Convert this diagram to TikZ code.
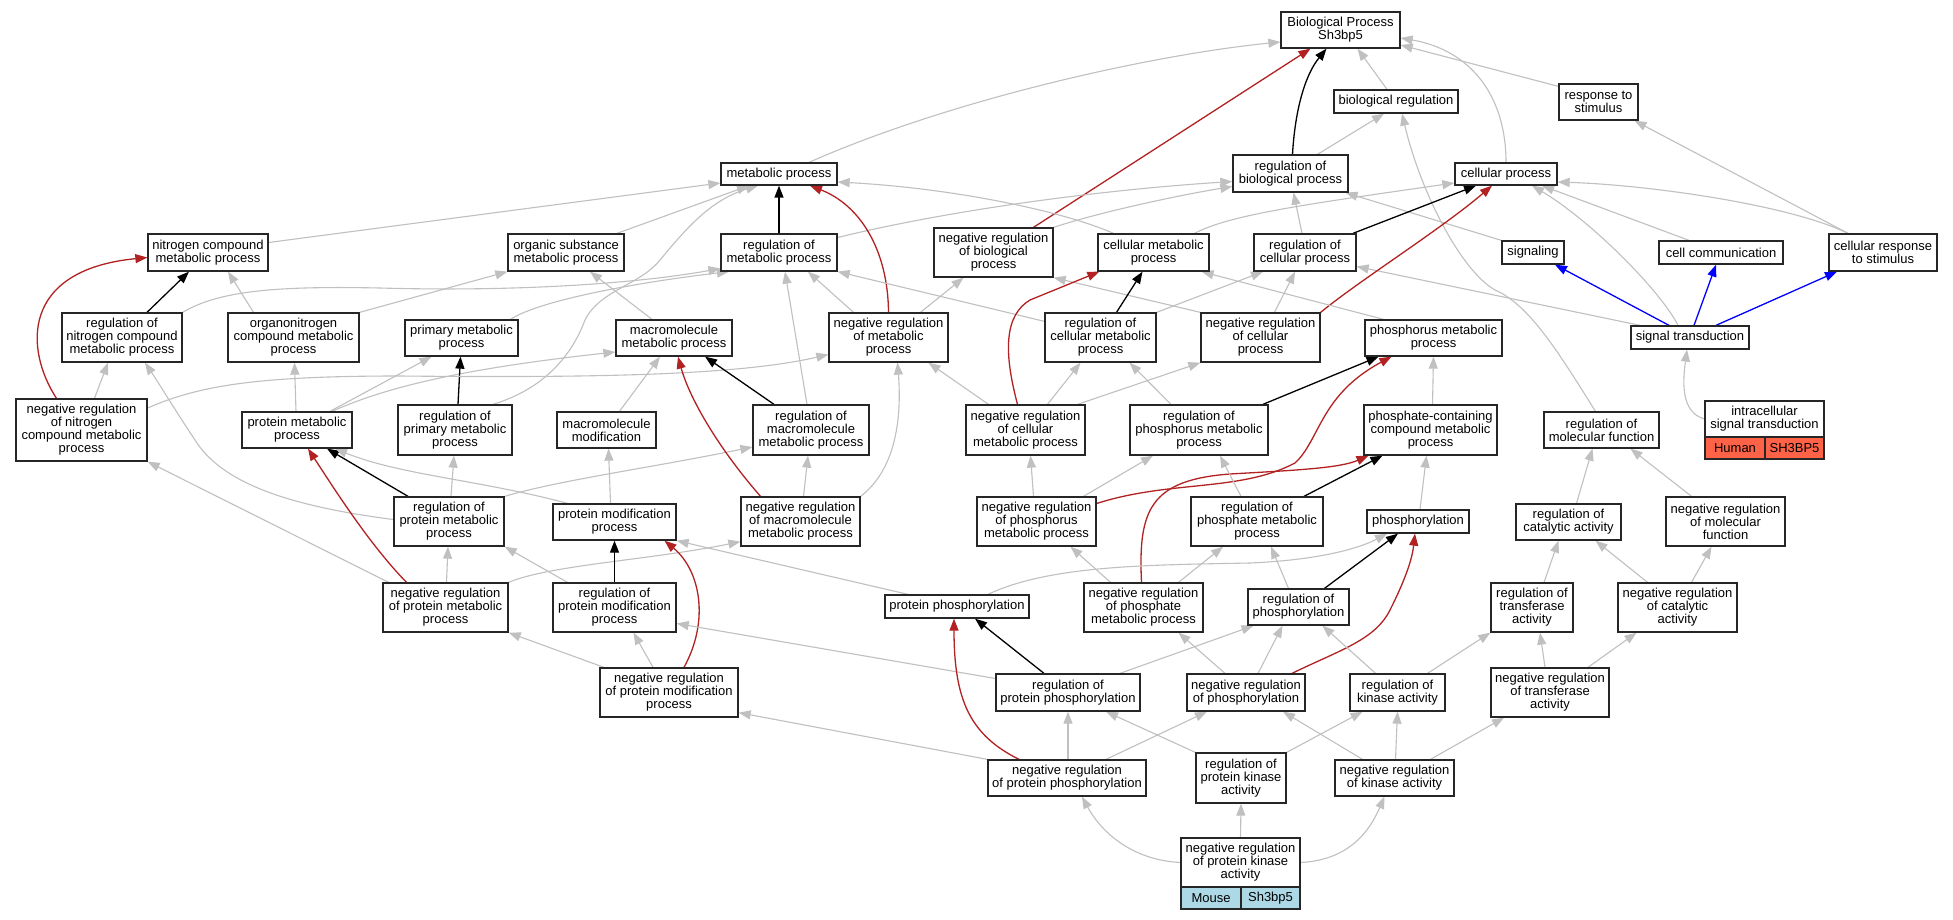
\documentclass[tikz,border=0pt]{standalone}
\usepackage{fontspec}
\setmainfont{Liberation Sans}
\usetikzlibrary{arrows.meta,calc,backgrounds}
\definecolor{eg}{HTML}{C0C0C0}
\definecolor{er}{HTML}{B22222}
\definecolor{eb}{HTML}{0000FF}
\definecolor{hum}{HTML}{FF6347}
\definecolor{mou}{HTML}{ADD8E6}
\newcommand\nfont{\fontsize{13}{13}\selectfont}
\newcommand\gobox[6]{\node[gbox,minimum width=#4pt,minimum height=#5pt] (#1) at (#2,#3) {#6};}
\begin{document}
\begin{tikzpicture}[x=1pt,y=-1pt,
  gbox/.style={draw=black!85,line width=1.3pt,fill=white,rectangle,inner sep=0pt,align=center,font=\nfont},
  gline/.style={draw=eg,line width=1.1pt,-{Triangle[length=12pt,width=9pt]}},
  kline/.style={draw=black,line width=1.3pt,-{Triangle[length=12pt,width=9pt]}},
  rline/.style={draw=er,line width=1.3pt,-{Triangle[length=12pt,width=9pt]}},
  bline/.style={draw=eb,line width=1.3pt,-{Triangle[length=12pt,width=9pt]}}]
\useasboundingbox (0,0) rectangle (1953,920);
% nodes
\gobox{BP}{1340.5}{30}{119}{36}{Biological Process\\Sh3bp5}
\gobox{bioreg}{1396}{101.5}{124}{23}{biological regulation}
\gobox{resp}{1598.5}{102}{79}{36}{response to\\stimulus}
\gobox{metab}{779}{174}{116}{22}{metabolic process}
\gobox{regbio}{1290.5}{173.5}{115}{37}{regulation of\\biological process}
\gobox{cellp}{1506}{174}{102}{22}{cellular process}
\gobox{ncmp}{208}{252.5}{120}{37}{nitrogen compound\\metabolic process}
\gobox{osmp}{566}{252.5}{116}{37}{organic substance\\metabolic process}
\gobox{regmp}{779}{252.5}{116}{37}{regulation of\\metabolic process}
\gobox{nrbio}{993.5}{252.5}{119}{49}{negative regulation\\of biological\\process}
\gobox{cmp}{1153.5}{252.5}{111}{37}{cellular metabolic\\process}
\gobox{regcp}{1305}{252.5}{102}{37}{regulation of\\cellular process}
\gobox{sig}{1533}{252.5}{62}{23}{signaling}
\gobox{cellcomm}{1721}{252.5}{124}{23}{cell communication}
\gobox{crs}{1883}{252.5}{108}{37}{cellular response\\to stimulus}
\gobox{rncmp}{122}{337.5}{120}{49}{regulation of\\nitrogen compound\\metabolic process}
\gobox{oncmp}{293.5}{337.5}{131}{49}{organonitrogen\\compound metabolic\\process}
\gobox{pmp}{461.5}{338}{113}{36}{primary metabolic\\process}
\gobox{mmp}{674}{338}{116}{36}{macromolecule\\metabolic process}
\gobox{nrmp}{888.5}{337.5}{119}{49}{negative regulation\\of metabolic\\process}
\gobox{rcmp}{1100.5}{337.5}{111}{49}{regulation of\\cellular metabolic\\process}
\gobox{nrcp}{1260.5}{337.5}{119}{49}{negative regulation\\of cellular\\process}
\gobox{phmp}{1433.5}{338}{137}{36}{phosphorus metabolic\\process}
\gobox{st}{1690}{337.5}{118}{23}{signal transduction}
\gobox{nrncmp}{81.5}{430}{131}{62}{negative regulation\\of nitrogen\\compound metabolic\\process}
\gobox{prmp}{297}{430}{110}{36}{protein metabolic\\process}
\gobox{rpmp}{455}{430}{114}{50}{regulation of\\primary metabolic\\process}
\gobox{mmod}{606.5}{430}{99}{36}{macromolecule\\modification}
\gobox{rmmp}{811}{430}{116}{50}{regulation of\\macromolecule\\metabolic process}
\gobox{nrcmp}{1025.5}{430}{119}{50}{negative regulation\\of cellular\\metabolic process}
\gobox{rphmp}{1199}{430}{138}{50}{regulation of\\phosphorus metabolic\\process}
\gobox{pccmp}{1430.5}{430}{133}{50}{phosphate-containing\\compound metabolic\\process}
\gobox{rmf}{1601.5}{430}{115}{36}{regulation of\\molecular function}
\gobox{ist}{1764.5}{419}{119}{36}{intracellular\\signal transduction}
\node[gbox,fill=hum,minimum width=60pt,minimum height=22pt] (isth) at (1735,448) {Human};
\node[gbox,fill=hum,minimum width=59pt,minimum height=22pt] (istg) at (1794.5,448) {SH3BP5};
\gobox{rprmp}{449}{521.5}{110}{49}{regulation of\\protein metabolic\\process}
\gobox{pmod}{614.5}{522}{123}{36}{protein modification\\process}
\gobox{nrmmp}{800.5}{521.5}{119}{49}{negative regulation\\of macromolecule\\metabolic process}
\gobox{nrphmp}{1036.5}{521.5}{119}{49}{negative regulation\\of phosphorus\\metabolic process}
\gobox{rphtmp}{1257}{521.5}{132}{49}{regulation of\\phosphate metabolic\\process}
\gobox{phos}{1418}{521.5}{102}{23}{phosphorylation}
\gobox{rca}{1568.5}{522}{105}{36}{regulation of\\catalytic activity}
\gobox{nrmf}{1725.5}{521.5}{119}{49}{negative regulation\\of molecular\\function}
\gobox{nrprmp}{445.5}{607.5}{125}{49}{negative regulation\\of protein metabolic\\process}
\gobox{rpmod}{614.5}{607.5}{123}{49}{regulation of\\protein modification\\process}
\gobox{pphos}{957}{606.5}{144}{23}{protein phosphorylation}
\gobox{nrphtmp}{1143.5}{607.5}{119}{49}{negative regulation\\of phosphate\\metabolic process}
\gobox{rphos}{1298.5}{607}{101}{36}{regulation of\\phosphorylation}
\gobox{rta}{1532}{607.5}{82}{49}{regulation of\\transferase\\activity}
\gobox{nrca}{1677.5}{607.5}{119}{49}{negative regulation\\of catalytic\\activity}
\gobox{nrpmod}{669}{692.5}{138}{49}{negative regulation\\of protein modification\\process}
\gobox{rpphos}{1068}{692.5}{144}{37}{regulation of\\protein phosphorylation}
\gobox{nrphos}{1246}{692.5}{118}{37}{negative regulation\\of phosphorylation}
\gobox{rka}{1397.5}{692.5}{95}{37}{regulation of\\kinase activity}
\gobox{nrta}{1550}{692.5}{118}{49}{negative regulation\\of transferase\\activity}
\gobox{nrpphos}{1067}{778}{158}{36}{negative regulation\\of protein phosphorylation}
\gobox{rpka}{1241}{778}{90}{50}{regulation of\\protein kinase\\activity}
\gobox{nrka}{1394.5}{778}{119}{36}{negative regulation\\of kinase activity}
\gobox{nrpka}{1240.5}{862.5}{119}{49}{negative regulation\\of protein kinase\\activity}
\node[gbox,fill=mou,minimum width=60pt,minimum height=22pt] (nrpkam) at (1211,898) {Mouse};
\node[gbox,fill=mou,minimum width=59pt,minimum height=22pt] (nrpkag) at (1270.5,898) {Sh3bp5};
\begin{scope}[on background layer]
\fill[white] (0,0) rectangle (1953,920);
% top
\draw[gline] ($(metab.north)+(30,0)$) .. controls (950,100) and (1150,55) .. ($(BP.west)+(0,12)$);
\draw[gline] ($(bioreg.north)+(-9,0)$) -- ($(BP.south)+(17,0)$);
\draw[gline] ($(resp.north west)+(0,3)$) -- ($(BP.east)+(0,15)$);
\draw[gline] (cellp.north) .. controls (1506,95) and (1470,50) .. ($(BP.east)+(0,8)$);
\draw[kline] ($(regbio.north)+(2,0)$) .. controls (1295,110) and (1305,75) .. ($(BP.south)+(-14,0)$);
\draw[rline] ($(nrbio.north)+(40,0)$) -- ($(BP.south)+(-30,0)$);
\draw[gline] ($(regbio.north)+(27,0)$) -- ($(bioreg.south)+(-12,0)$);
\draw[gline] ($(rmf.north)+(-6,0)$) .. controls (1560,355) and (1530,305) .. (1495,290) .. controls (1460,270) and (1420,190) .. ($(bioreg.south)+(6,0)$);
\draw[gline] ($(crs.north)+(-35,0)$) .. controls (1790,205) and (1650,185) .. ($(cellp.east)+(0,8)$);
\draw[gline] ($(crs.north)+(-35,0)$) -- ($(resp.south)+(36,0)$);
\draw[gline] ($(cellcomm.north)+(-32,0)$) -- ($(cellp.south)+(36,0)$);
\draw[gline] ($(st.north)+(-12,0)$) .. controls (1660,290) and (1590,220) .. ($(cellp.south)+(26,0)$);
\draw[bline] ($(st.north)+(-21,0)$) -- ($(sig.south)+(22,0)$);
\draw[bline] ($(st.north)+(4,0)$) -- ($(cellcomm.south)+(-5,0)$);
\draw[bline] ($(st.north)+(26,0)$) -- ($(crs.south)+(-46,0)$);
\draw[gline] ($(st.north)+(-50,0)$) -- ($(regcp.east)+(0,14)$);
\draw[gline] (sig.north west) -- ($(regbio.south)+(55,0)$);
\draw[gline] ($(regcp.north)+(-3,0)$) -- ($(regbio.south)+(3,0)$);
\draw[kline] ($(regcp.north)+(48,0)$) -- ($(cellp.south)+(-30,0)$);
\draw[rline] (nrcp.north east) .. controls (1360,280) and (1440,230) .. ($(cellp.south)+(-14,0)$);
\draw[gline] ($(cmp.north)+(41,0)$) .. controls (1230,215) and (1300,205) .. ($(cellp.west)+(0,9)$);
\draw[gline] ($(regmp.east)+(0,-15)$) .. controls (950,210) and (1100,190) .. ($(regbio.west)+(0,8)$);
\draw[gline] (nrbio.north east) .. controls (1100,212) and (1180,195) .. ($(regbio.west)+(0,13)$);
\draw[kline] (regmp.north) -- (metab.south);
\draw[rline] (nrmp.north) .. controls (888,250) and (860,205) .. ($(metab.south)+(31,0)$);
\draw[gline] ($(cmp.north)+(-40,0)$) .. controls (1060,210) and (950,188) .. ($(metab.east)+(0,8)$);
\draw[gline] ($(ncmp.east)+(0,-10)$) -- ($(metab.west)+(0,9)$);
\draw[gline] ($(osmp.north)+(51,0)$) -- ($(metab.south)+(-30,0)$);
\draw[gline] ($(rpmp.north)+(38,0)$) .. controls (540,390) and (570,360) .. (585,320) .. controls (600,290) and (640,285) .. (660,260) .. controls (685,230) and (710,200) .. ($(metab.south)+(-21,0)$);
\draw[gline] ($(pmp.north)+(49,0)$) .. controls (540,300) and (640,282) .. ($(regmp.south)+(-50,0)$);
\draw[gline] (rncmp.north east) .. controls (220,290) and (280,286) .. (380,288) .. controls (520,292) and (640,283) .. ($(regmp.west)+(0,16)$);
\draw[gline] ($(oncmp.north)+(-40,0)$) -- ($(ncmp.south)+(20,0)$);
\draw[kline] ($(rncmp.north)+(25,0)$) -- ($(ncmp.south)+(-19,0)$);
\draw[rline] ($(nrncmp.north)+(-25,0)$) .. controls (25,350) and (20,270) .. ($(ncmp.west)+(0,5)$);
\draw[gline] (oncmp.north east) -- (osmp.south west);
\draw[gline] ($(mmp.north)+(-22,0)$) -- ($(osmp.south)+(24,0)$);
\draw[gline] ($(rcmp.north west)+(0,9)$) -- (regmp.south east);
\draw[gline] ($(nrmp.north)+(-35,0)$) -- ($(regmp.south)+(29,0)$);
\draw[gline] ($(rmmp.north)+(-4,0)$) -- ($(regmp.south)+(6,0)$);
\draw[gline] ($(nrmp.north)+(32,0)$) -- ($(nrbio.south)+(-30,0)$);
\draw[gline] (nrcp.north west) -- (nrbio.south east);
\draw[kline] ($(rcmp.north)+(16,0)$) -- ($(cmp.south)+(-11,0)$);
\draw[rline] ($(nrcmp.north)+(-8,0)$) .. controls (1003,350) and (1005,315) .. (1030,300) -- ($(cmp.south west)+(2,0)$);
\draw[gline] (rcmp.north east) -- ($(regcp.south)+(-42,0)$);
\draw[gline] ($(nrcp.north)+(14,0)$) -- ($(regcp.south)+(-10,0)$);
\draw[gline] ($(phmp.north)+(-50,0)$) -- ($(cmp.south)+(48,0)$);
\draw[gline] (ist.west) .. controls (1680,412) and (1683,380) .. ($(st.south)+(-3,0)$);
% middle
\draw[gline] ($(prmp.north)+(33,0)$) -- ($(pmp.south)+(-30,0)$);
\draw[gline] ($(prmp.north)+(-1,0)$) -- ($(oncmp.south)+(1,0)$);
\draw[gline] ($(prmp.north)+(35,0)$) .. controls (380,390) and (450,370) .. ($(mmp.west)+(0,14)$);
\draw[kline] ($(rpmp.north)+(3,0)$) -- ($(pmp.south)+(-1,0)$);
\draw[gline] ($(nrncmp.north)+(13,0)$) -- ($(rncmp.south)+(-14,0)$);
\draw[gline] ($(nrncmp.east)+(0,-22)$) .. controls (200,385) and (260,376) .. (400,376) .. controls (600,378) and (740,375) .. ($(nrmp.west)+(0,17)$);
\draw[gline] ($(mmod.north)+(13,0)$) -- ($(mmp.south)+(-14,0)$);
\draw[kline] ($(rmmp.north)+(-37,0)$) -- ($(mmp.south)+(31,0)$);
\draw[gline] ($(nrcmp.north)+(-37,0)$) -- ($(nrmp.south)+(40,0)$);
\draw[gline] ($(nrcmp.north)+(22,0)$) -- ($(rcmp.south)+(-20,0)$);
\draw[gline] ($(nrcmp.north)+(52,0)$) -- (nrcp.south west);
\draw[kline] ($(rphmp.north)+(64,0)$) -- ($(phmp.south)+(-55,0)$);
\draw[gline] ($(rphmp.north)+(-28,0)$) -- ($(rcmp.south)+(29,0)$);
\draw[gline] ($(pccmp.north)+(2,0)$) -- (phmp.south);
\draw[kline] ($(rprmp.north)+(-41,0)$) -- ($(prmp.south)+(30,0)$);
\draw[gline] ($(rprmp.north)+(2,0)$) -- ($(rpmp.south)+(-1,0)$);
\draw[gline] ($(rprmp.west)+(0,-2)$) .. controls (280,505) and (220,480) .. (195,440) .. controls (175,410) and (160,385) .. ($(rncmp.south)+(23,0)$);
\draw[gline] (rprmp.north east) .. controls (560,480) and (650,468) .. ($(rmmp.west)+(0,17)$);
\draw[gline] ($(pmod.north)+(-4,0)$) -- ($(mmod.south)+(2,0)$);
\draw[gline] ($(pmod.north)+(-47,0)$) .. controls (480,480) and (400,475) .. ($(prmp.south)+(38,0)$);
\draw[rline] ($(nrmmp.north)+(-40,0)$) .. controls (720,450) and (690,400) .. ($(mmp.south)+(4,0)$);
\draw[gline] ($(nrmmp.north)+(3,0)$) -- ($(rmmp.south)+(-3,0)$);
\draw[gline] (nrmmp.north east) .. controls (895,470) and (902,420) .. ($(nrmp.south)+(9,0)$);
\draw[gline] ($(nrphmp.north)+(-3,0)$) -- ($(nrcmp.south)+(5,0)$);
\draw[gline] ($(nrphmp.north)+(47,0)$) -- ($(rphmp.south)+(-46,0)$);
\draw[rline] ($(nrphmp.east)+(0,-18)$) .. controls (1170,480) and (1240,492) .. (1295,463) .. controls (1320,440) and (1320,395) .. ($(phmp.south)+(-42,0)$);
\draw[rline] ($(nrphtmp.north)+(-2,0)$) .. controls (1138,510) and (1150,480) .. (1230,474) .. controls (1300,470) and (1340,468) .. ($(pccmp.south)+(-62,0)$);
\draw[kline] ($(rphtmp.north)+(47,0)$) -- ($(pccmp.south)+(-48,0)$);
\draw[gline] ($(rphtmp.north)+(-16,0)$) -- ($(rphmp.south)+(21,0)$);
\draw[gline] ($(phos.north)+(2,0)$) -- ($(pccmp.south)+(-4,0)$);
\draw[gline] ($(rca.north)+(8,0)$) -- ($(rmf.south)+(-9,0)$);
\draw[gline] ($(nrmf.north)+(-34,0)$) -- ($(rmf.south)+(29,0)$);
% lower
\draw[rline] ($(nrprmp.north)+(-39,0)$) .. controls (370,545) and (335,490) .. ($(prmp.south)+(11,0)$);
\draw[gline] ($(nrprmp.north)+(1,0)$) -- ($(rprmp.south)+(-1,0)$);
\draw[gline] ($(nrprmp.north)+(-57,0)$) -- (nrncmp.south east);
\draw[gline] (nrprmp.north east) .. controls (550,565) and (650,560) .. ($(nrmmp.south west)+(0,-5)$);
\draw[kline] (rpmod.north) -- (pmod.south);
\draw[gline] ($(rpmod.north)+(-47,0)$) -- (rprmp.south east);
\draw[gline] ($(pphos.north)+(-49,0)$) -- (pmod.south east);
\draw[gline] ($(pphos.north)+(31,0)$) .. controls (1050,565) and (1150,565) .. (1250,563) .. controls (1320,560) and (1360,548) .. ($(phos.south)+(-31,0)$);
\draw[rline] ($(nrpmod.north)+(15,0)$) .. controls (710,620) and (700,570) .. ($(pmod.south)+(50,0)$);
\draw[gline] ($(nrpmod.north)+(-65,0)$) -- (nrprmp.south east);
\draw[gline] ($(nrpmod.north)+(-16,0)$) -- ($(rpmod.south)+(19,0)$);
\draw[gline] ($(nrphtmp.north)+(-33,0)$) -- ($(nrphmp.south)+(34,0)$);
\draw[gline] ($(nrphtmp.north)+(35,0)$) -- ($(rphtmp.south)+(-34,0)$);
\draw[kline] ($(rphos.north)+(26,0)$) -- ($(phos.south)+(-20,0)$);
\draw[gline] ($(rphos.north)+(-10,0)$) -- ($(rphtmp.south)+(14,0)$);
\draw[gline] ($(rta.north)+(12,0)$) -- ($(rca.south)+(-10,0)$);
\draw[gline] ($(nrca.north)+(-30,0)$) -- ($(rca.south)+(27,0)$);
\draw[gline] ($(nrca.north)+(14,0)$) -- ($(nrmf.south)+(-14,0)$);
\draw[kline] ($(rpphos.north)+(-24,0)$) -- ($(pphos.south)+(18,0)$);
\draw[gline] ($(rpphos.north)+(52,0)$) -- ($(rphos.south)+(-45,0)$);
\draw[gline] ($(rpphos.west)+(0,-14)$) -- ($(rpmod.east)+(0,16)$);
\draw[rline] ($(nrphos.north)+(46,0)$) .. controls (1340,650) and (1375,640) .. (1390,610) .. controls (1405,580) and (1412,560) .. ($(phos.south)+(-3,0)$);
\draw[gline] ($(nrphos.north)+(12,0)$) -- ($(rphos.south)+(-16,0)$);
\draw[gline] ($(nrphos.north)+(-21,0)$) -- ($(nrphtmp.south)+(35,0)$);
\draw[gline] ($(rka.north)+(-22,0)$) -- ($(rphos.south)+(24,0)$);
\draw[gline] ($(rka.north)+(30,0)$) -- (rta.south west);
\draw[gline] ($(nrta.north)+(-5,0)$) -- ($(rta.south)+(8,0)$);
\draw[gline] ($(nrta.north)+(38,0)$) -- ($(nrca.south)+(-41,0)$);
\draw[rline] ($(nrpphos.north)+(-48,0)$) .. controls (970,735) and (954,700) .. ($(pphos.south)+(-3,0)$);
\draw[gline] ($(nrpphos.north)+(1,0)$) -- (rpphos.south);
\draw[gline] ($(nrpphos.north)+(39,0)$) -- ($(nrphos.south)+(-39,0)$);
\draw[gline] (nrpphos.north west) -- ($(nrpmod.south east)+(0,-5)$);
\draw[gline] (rpka.north west) -- ($(rpphos.south)+(38,0)$);
\draw[gline] (rpka.north east) -- ($(rka.south)+(-35,0)$);
\draw[gline] ($(nrka.north)+(-32,0)$) -- ($(nrphos.south)+(37,0)$);
\draw[gline] ($(nrka.north)+(1,0)$) -- (rka.south);
\draw[gline] ($(nrka.north)+(36,0)$) -- ($(nrta.south)+(-46,0)$);
\draw[gline] (nrpka.west) .. controls (1130,860) and (1100,830) .. ($(nrpphos.south)+(15,0)$);
\draw[gline] (nrpka.north) -- (rpka.south);
\draw[gline] (nrpka.east) .. controls (1350,860) and (1370,830) .. ($(nrka.south)+(-10,0)$);
\end{scope}
\end{tikzpicture}
\end{document}
